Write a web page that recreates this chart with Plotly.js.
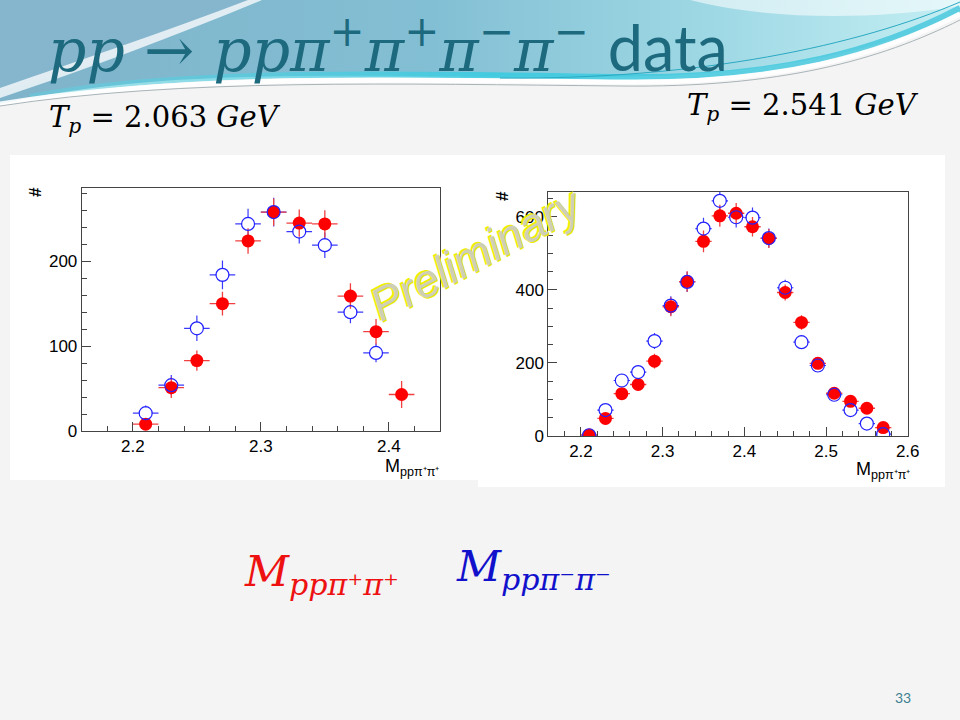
<!DOCTYPE html>
<html>
<head>
<meta charset="utf-8">
<script src="https://cdn.plot.ly/plotly-3.0.1.min.js"></script>
<style>
  body { margin: 0; background: #f4f4f4; }
  #wrap { position: relative; width: 960px; height: 720px; overflow: hidden; }
  #bg { position: absolute; left: 0; top: 0; }
  #plot { position: absolute; left: 0; top: 0; width: 960px; height: 720px; }
</style>
</head>
<body>
<div id="wrap">
<svg id="bg" width="960" height="720" viewBox="0 0 960 720">
  <defs>
    <linearGradient id="gBlue" x1="0" y1="0" x2="1" y2="0">
      <stop offset="0" stop-color="#7fb3ca"/>
      <stop offset="0.45" stop-color="#83bfd4"/>
      <stop offset="0.75" stop-color="#9fd9e5"/>
      <stop offset="1" stop-color="#c4eef3"/>
    </linearGradient>
    <linearGradient id="gCyan" x1="0" y1="0" x2="1" y2="0">
      <stop offset="0" stop-color="#5fd0e0" stop-opacity="0.5"/>
      <stop offset="0.5" stop-color="#3ccbe0" stop-opacity="0.9"/>
      <stop offset="1" stop-color="#45c6dc" stop-opacity="0.8"/>
    </linearGradient>
  </defs>
  <rect x="0" y="0" width="960" height="720" fill="#f4f4f4"/>
  <path d="M0,0 L960,0 L960,14 C880,50 780,72 650,76 C480,80 300,70 150,82 C90,87 40,95 0,104 Z" fill="url(#gBlue)"/>
  <path d="M0,0 L255,0 C175,38 85,68 0,92 Z" fill="#86b6cd"/>
  <path d="M0,98 C90,68 180,34 262,0 L248,0 C165,32 80,60 0,88 Z" fill="#ffffff" opacity="0.75"/>
  <path d="M690,0 C760,18 860,22 960,6 L960,0 Z" fill="#ffffff" opacity="0.55"/>
  <path d="M30,97 C180,68 400,74 620,77 C780,79 880,50 960,8" fill="none" stroke="url(#gCyan)" stroke-width="6"/>
  <path d="M0,104 C180,74 400,80 620,82 C780,84 880,55 960,14" fill="none" stroke="#ffffff" stroke-width="5" opacity="0.9"/>
  <path d="M0,106 C180,78 400,84 620,86 C780,88 880,60 960,20" fill="none" stroke="#a9b4b8" stroke-width="1"/>
  <path d="M500,78 C700,80 860,45 960,2" fill="none" stroke="#2aa9c2" stroke-width="1"/>
  <rect x="10" y="155" width="935" height="325" fill="#ffffff"/>
  <rect x="478" y="155" width="467" height="332" fill="#ffffff"/>
</svg>
<div id="plot"></div>
</div>
<script>
// ---- data ----
const massLeft  = [2.21, 2.23, 2.25, 2.27, 2.29, 2.31, 2.33, 2.35, 2.37, 2.39, 2.41];
const redLeft   = [8, 51, 83, 150, 224, 258, 245, 244, 159, 117, 43];
const redLeftErr  = [6, 12, 12, 14, 15, 16, 16, 16, 15, 15, 16];
const blueLeft  = [21, 54, 121, 184, 244, 258, 235, 219, 140, 92];
const blueLeftErr = [9, 12, 15, 17, 18, 17, 14, 15, 13, 11];

const massRight = [2.21, 2.23, 2.25, 2.27, 2.29, 2.31, 2.33, 2.35, 2.37, 2.39,
                   2.41, 2.43, 2.45, 2.47, 2.49, 2.51, 2.53, 2.55, 2.57];
const redRight  = [3, 48, 116, 141, 205, 354, 423, 533, 603, 610,
                   573, 541, 393, 311, 199, 117, 95, 76, 23];
const redRightErr = [4, 10, 15, 16, 20, 26, 28, 30, 30, 28,
                     27, 26, 22, 20, 16, 13, 12, 11, 7];
const blueRight = [2, 71, 152, 175, 260, 357, 422, 568, 644, 599,
                   598, 542, 406, 257, 193, 113, 71, 34, 5];
const blueRightErr = [4, 12, 17, 18, 22, 26, 28, 30, 30, 28,
                      28, 26, 22, 18, 16, 13, 11, 8, 4];

const leftXTicks = [2.2, 2.3, 2.4];
const rightXTicks = [2.2, 2.3, 2.4, 2.5, 2.6];
const leftYTicks = [0, 100, 200];
const rightYTicks = [0, 200, 400, 600];

// ---- styles ----
const RED = '#ff0000', BLUE = '#2222ff';
const MS = 13;
function redTrace(x, y, err, xa, ya) {
  return { type: 'scatter', mode: 'markers', x: x, y: y, xaxis: xa, yaxis: ya,
    marker: { color: RED, size: MS, symbol: 'circle' },
    error_y: { type: 'data', array: err, visible: true, color: '#f04040', thickness: 1.3, width: 0 },
    error_x: { type: 'constant', value: 0.01, visible: true, color: '#f04040', thickness: 1.3, width: 0 } };
}
// blue: error bars, then a white mask (so bars stop at the ring), then the open ring on top
function blueErrTrace(x, y, err, xa, ya) {
  return { type: 'scatter', mode: 'markers', x: x, y: y, xaxis: xa, yaxis: ya,
    marker: { color: 'rgba(0,0,0,0)', size: 1 },
    error_y: { type: 'data', array: err, visible: true, color: '#3a3aff', thickness: 1.2, width: 0 },
    error_x: { type: 'constant', value: 0.01, visible: true, color: '#3a3aff', thickness: 1.2, width: 0 } };
}
function blueMaskTrace(x, y, xa, ya) {
  return { type: 'scatter', mode: 'markers', x: x, y: y, xaxis: xa, yaxis: ya,
    marker: { color: '#ffffff', size: MS - 1, symbol: 'circle' } };
}
function blueRingTrace(x, y, xa, ya) {
  return { type: 'scatter', mode: 'markers', x: x, y: y, xaxis: xa, yaxis: ya,
    marker: { color: BLUE, size: MS, symbol: 'circle-open', line: { width: 1.2, color: BLUE } } };
}

const massLeftBlue = massLeft.slice(0, blueLeft.length);
const data = [
  blueErrTrace(massLeftBlue, blueLeft, blueLeftErr, 'x', 'y'),
  blueMaskTrace(massLeftBlue, blueLeft, 'x', 'y'),
  redTrace(massLeft, redLeft, redLeftErr, 'x', 'y'),
  blueRingTrace(massLeftBlue, blueLeft, 'x', 'y'),
  blueErrTrace(massRight, blueRight, blueRightErr, 'x2', 'y2'),
  blueMaskTrace(massRight, blueRight, 'x2', 'y2'),
  redTrace(massRight, redRight, redRightErr, 'x2', 'y2'),
  blueRingTrace(massRight, blueRight, 'x2', 'y2')
];

const W = 960, H = 720;
const px = v => v / W, py = v => 1 - v / H;

const sans = 'Liberation Sans, Arial, sans-serif';
const tickFont = { family: sans, size: 17, color: '#000' };
function axisBase(extra) {
  return Object.assign({
    showgrid: false, zeroline: false, showline: true, mirror: true,
    linecolor: '#444', linewidth: 1,
    ticks: 'inside', ticklen: 9, tickcolor: '#444', tickwidth: 1,
    tickfont: tickFont, fixedrange: true
  }, extra);
}

const mathFont = 'DejaVu Serif, Liberation Serif, serif';
const TEAL = '#1d6a7f';

function note(x, y, text, font, extra) {
  return Object.assign({ x: px(x), y: py(y), xref: 'paper', yref: 'paper',
    xanchor: 'left', yanchor: 'middle', showarrow: false, text: text, font: font }, extra || {});
}

const annotations = [
  note(46, 46, '<i>pp</i> → <i>ppπ</i><sup>+</sup><i>π</i><sup>+</sup><i>π</i><sup>−</sup><i>π</i><sup>−</sup> <span style="font-family:Lato, Liberation Sans, sans-serif;font-size:63px">data</span>',
    { family: mathFont, size: 60, color: TEAL }),
  note(47, 119, '<i>T</i><sub><i>p</i></sub> = 2.063 <i>GeV</i>', { family: mathFont, size: 29, color: '#000' }),
  note(685, 107, '<i>T</i><sub><i>p</i></sub> = 2.541 <i>GeV</i>', { family: mathFont, size: 29, color: '#000' }),
  note(242, 574, '<i>M</i><sub><i>ppπ⁺π⁺</i></sub>', { family: mathFont, size: 43, color: '#ee1111' }),
  note(454, 569, '<i>M</i><sub><i>ppπ⁻π⁻</i></sub>', { family: mathFont, size: 43, color: '#1111cc' }),
  note(903, 697, '33', { family: 'Lato, Liberation Sans, sans-serif', size: 14, color: '#3b7f90' }, { xanchor: 'center' }),
  // y-axis titles
  note(36, 192, '<b>#</b>', { family: sans, size: 17, color: '#000' }, { xanchor: 'center', textangle: -90 }),
  note(503, 196, '<b>#</b>', { family: sans, size: 17, color: '#000' }, { xanchor: 'center', textangle: -90 }),
  // x-axis titles
  note(441, 467, 'M<sub>ppπ⁺π⁺</sub>', { family: sans, size: 18, color: '#000' }, { xanchor: 'right' }),
  note(912, 470, 'M<sub>ppπ⁺π⁺</sub>', { family: sans, size: 18, color: '#000' }, { xanchor: 'right' }),
  // watermark
  note(476, 254, '<i>Preliminary</i>', { family: sans, size: 46, color: '#eeee00' },
    { xanchor: 'center', textangle: -28, xshift: -2, yshift: 1 }),
  note(476, 254, '<i>Preliminary</i>', { family: sans, size: 46, color: '#eeee00' },
    { xanchor: 'center', textangle: -28, xshift: 1, yshift: -1 }),
  note(476, 254, '<i>Preliminary</i>', { family: sans, size: 46, color: 'rgba(205,205,195,0.95)' },
    { xanchor: 'center', textangle: -28 })
];

const layout = {
  width: W, height: H,
  margin: { l: 0, r: 0, t: 0, b: 0 },
  paper_bgcolor: 'rgba(0,0,0,0)',
  plot_bgcolor: '#ffffff',
  showlegend: false,
  hovermode: false,
  xaxis: axisBase({ domain: [px(81.7), px(440)], range: [2.16, 2.44], anchor: 'y',
    tickvals: leftXTicks, ticktext: leftXTicks.map(v => v.toFixed(1)),
    minor: { ticks: 'inside', ticklen: 5, dtick: 0.02, tick0: 2.2, tickcolor: '#444' } }),
  yaxis: axisBase({ domain: [py(431), py(188.3)], range: [0, 286], anchor: 'x',
    tickvals: leftYTicks, ticktext: leftYTicks.map(String),
    minor: { ticks: 'inside', ticklen: 5, dtick: 20, tick0: 0, tickcolor: '#444' } }),
  xaxis2: axisBase({ domain: [px(548.3), px(907.7)], range: [2.16, 2.6], anchor: 'y2',
    tickvals: rightXTicks, ticktext: rightXTicks.map(v => v.toFixed(1)),
    minor: { ticks: 'inside', ticklen: 5, dtick: 0.02, tick0: 2.2, tickcolor: '#444' } }),
  yaxis2: axisBase({ domain: [py(436), py(191.7)], range: [0, 669], anchor: 'x2',
    tickvals: rightYTicks, ticktext: rightYTicks.map(String),
    minor: { ticks: 'inside', ticklen: 5, dtick: 50, tick0: 0, tickcolor: '#444' } }),
  annotations: annotations
};

Plotly.newPlot('plot', data, layout, { displayModeBar: false, staticPlot: true });
</script>
</body>
</html>
